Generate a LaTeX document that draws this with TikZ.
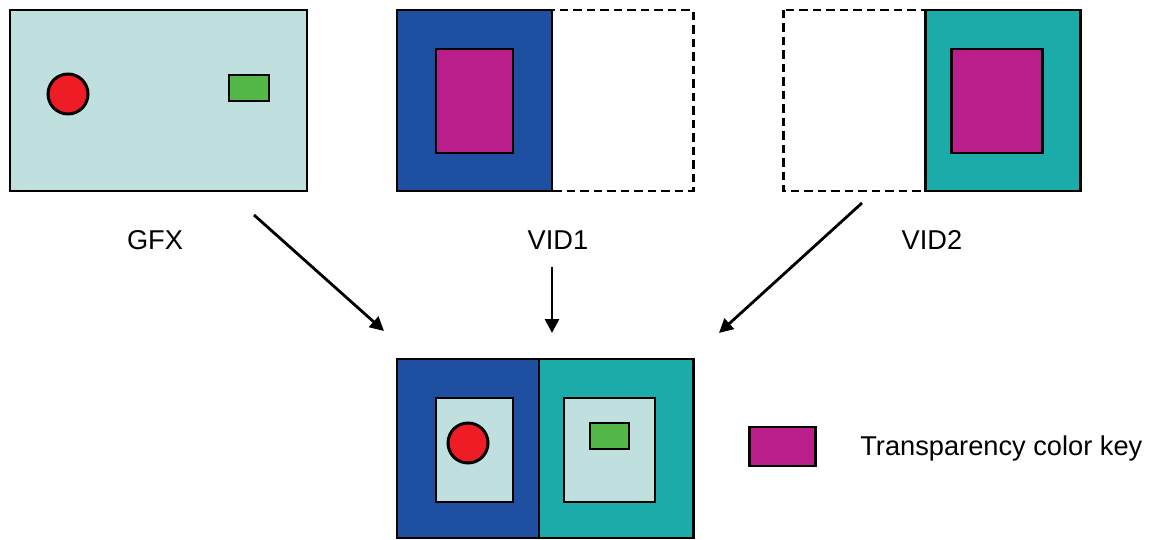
\documentclass[tikz,border=0pt]{standalone}
\usepackage{fontspec}
\setmainfont{Liberation Sans}
\usepackage{xcolor}
\usepackage{tikz}
\usetikzlibrary{arrows.meta,positioning,calc}
\definecolor{clrBg}{RGB}{192,224,223}
\definecolor{clrBl}{RGB}{31,79,160}
\definecolor{clrTl}{RGB}{27,171,168}
\definecolor{clrKey}{RGB}{185,30,138}
\definecolor{clrR}{RGB}{238,29,37}
\definecolor{clrGr}{RGB}{84,184,72}

\begin{document}
\begin{tikzpicture}[x=0.02cm,y=-0.02cm,font=\fontsize{15.5}{18}\selectfont,
    edge/.style={line width=1.7pt},
    dashedge/.style={line width=1.7pt,dash pattern=on 0.17cm off 0.1cm},
    flow/.style={line width=1.6pt,-{Triangle[length=0.28cm,width=0.28cm]}}]
  \useasboundingbox (0,0) rectangle (1150,540);
  \def\rowT{10} \def\rowB{191}
  \def\resT{359} \def\resB{538}

  % --- GFX ---
  \draw[edge,fill=clrBg] (10,\rowT) rectangle (307,\rowB);
  \draw[edge,fill=clrR] (68,94) circle (20);
  \draw[edge,fill=clrGr] (229,75) rectangle (269,101);
  \node (gfxlbl) at (155,240) {GFX};

  % --- VID1 ---
  \draw[dashedge] (397,\rowT) rectangle (693,\rowB);
  \draw[edge,fill=clrBl] (397,\rowT) rectangle (552,\rowB);
  \draw[edge,fill=clrKey] (436,49) rectangle (513,153);
  \node (vidAlbl) at (558,240) {VID1};

  % --- VID2 ---
  \draw[dashedge] (783,\rowT) rectangle (1080,\rowB);
  \draw[edge,fill=clrTl] (925,\rowT) rectangle (1080,\rowB);
  \draw[edge,fill=clrKey] (951,49) rectangle (1042,153);
  \node (vidBlbl) at (932,240) {VID2};

  % --- result ---
  \draw[edge,fill=clrBl] (397,\resT) rectangle (539,\resB);
  \draw[edge,fill=clrTl] (539,\resT) rectangle (693,\resB);
  \draw[edge,fill=clrBg] (436,398) rectangle (513,502);
  \draw[edge,fill=clrR] (468,443) circle (20);
  \draw[edge,fill=clrBg] (564,398) rectangle (655,502);
  \draw[edge,fill=clrGr] (590,423) rectangle (629,449);

  % --- arrows ---
  \coordinate (gfxout) at (254,215);
  \coordinate (gfxin) at (384,331);
  \coordinate (vidAout) at (552,267);
  \coordinate (vidAin) at (552,333);
  \coordinate (vidBout) at (862,203);
  \coordinate (vidBin) at (719,333);
  \draw[flow] (gfxout) -- (gfxin);
  \draw[flow] (vidAout) -- (vidAin);
  \draw[flow] (vidBout) -- (vidBin);

  % --- key ---
  \draw[edge,fill=clrKey] (749,427) rectangle (815,466);
  \node[anchor=base west,inner sep=0pt] (keylbl) at (860,456) {Transparency color key};
\end{tikzpicture}
\end{document}
